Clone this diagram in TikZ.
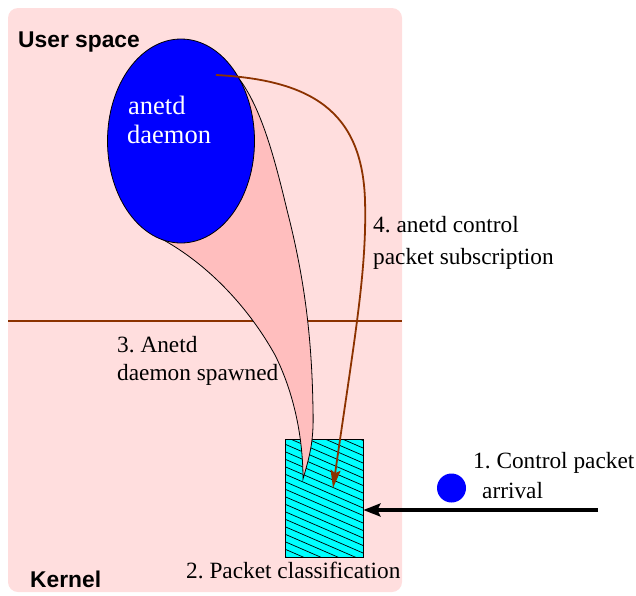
\documentclass[tikz,border=0pt]{standalone}
\usepackage{fontspec}
\setmainfont{Liberation Serif}
\newfontfamily\hsans{Liberation Sans}
\usetikzlibrary{arrows.meta,shapes.geometric}
\definecolor{bgpink}{RGB}{255,222,222}
\definecolor{funnel}{RGB}{255,190,190}
\definecolor{brownc}{RGB}{140,50,0}
\definecolor{cyanc}{RGB}{0,255,255}
\tikzset{
  lbl/.style={font=\frenchspacing\fontsize{23.3}{30}\selectfont, inner sep=0pt, anchor=base west},
  hdr/.style={font=\hsans\bfseries\fontsize{22.8}{26}\selectfont, inner sep=0pt, anchor=base west},
  dlbl/.style={font=\fontsize{26.5}{30}\selectfont, text=white, inner sep=0pt, anchor=base west},
  edge/.style={draw=black, line width=0.8pt},
}
\begin{document}
\begin{tikzpicture}[x=1pt,y=-1pt]
\useasboundingbox (0,0) rectangle (636,595);
% background
\fill[bgpink, rounded corners=10pt] (8,8) rectangle (402,592);
\draw[brownc, line width=1.8pt] (8,321) -- (402,321);
% hatched box
\node[fill=cyanc, minimum width=78, minimum height=118, inner sep=0pt, anchor=north west] (box) at (285,439) {};
\begin{scope}
\clip (285,439) rectangle (363,557);
\foreach \i in {-42,-34.5,...,125} {
  \draw[black, line width=0.7pt] (280,439+\i) -- (370,439+\i+39);
}
\end{scope}
\draw[edge] (box.north west) rectangle (box.south east);
% funnel
\fill[funnel, edge] (160,238)
  .. controls (210,265) and (250,310) .. (275,355)
  .. controls (295,395) and (303,440) .. (303,479)
  .. controls (310,455) and (314,440) .. (313,410)
  .. controls (312,340) and (305,280) .. (287,210)
  .. controls (275,160) and (262,110) .. (240,80) -- cycle;
% ellipse
\node[ellipse, edge, fill=blue, minimum width=147, minimum height=204, inner sep=0pt] (daemon) at (181,141) {};
\node[dlbl] (dt1) at (128,114) {anetd};
\node[dlbl] (dt2) at (127,143) {daemon};
% brown arrow
\coordinate (subst) at (216,75);
\coordinate (subend) at (333,488);
\draw[brownc, line width=1.8pt, -{Stealth[length=18pt,width=10pt,inset=3pt]}] (subst)
  .. controls (310,80) and (362,110) .. (365,200)
  .. controls (367,270) and (355,335) .. (subend);
% incoming arrow
\coordinate (inst) at (598,510);
\draw[black, line width=3.2pt, -{Stealth[length=17pt,width=13pt,inset=3pt]}] (inst) -- (box.east |- inst);
\node[circle, fill=blue, minimum size=29, inner sep=0pt] (pkt) at (451.5,488) {};
% labels
\node[hdr] (us) at (18,47) {User space};
\node[hdr] (kn) at (30,587) {Kernel};
\node[lbl] (l4a) at (373,232) {4. anetd control};
\node[lbl] (l4b) at (373,264) {packet subscription};
\node[lbl] (l3a) at (117,352) {3. Anetd};
\node[lbl] (l3b) at (117,380) {daemon spawned};
\node[lbl] (l2) at (186,578) {2. Packet classification};
\node[lbl] (l1a) at (473,468) {1. Control packet};
\node[lbl] (l1b) at (482,498) {arrival};
\end{tikzpicture}
\end{document}
